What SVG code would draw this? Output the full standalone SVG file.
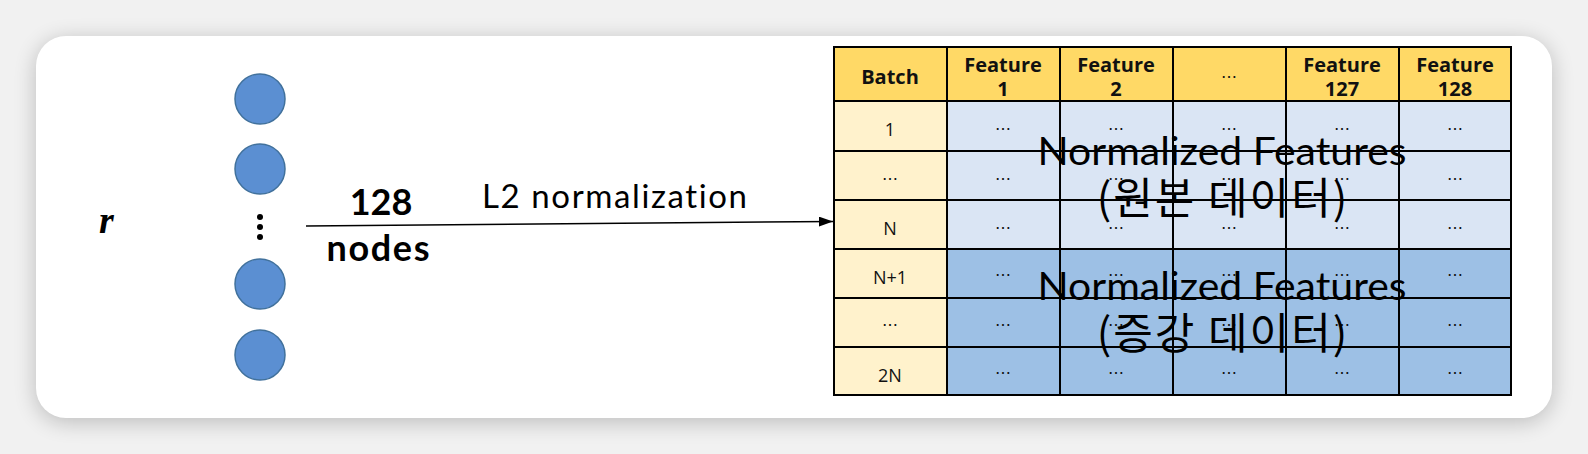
<svg xmlns="http://www.w3.org/2000/svg" width="1588" height="454" viewBox="0 0 1588 454">
<defs>
<filter id="sh" x="-10%" y="-30%" width="120%" height="160%">
<feGaussianBlur stdDeviation="11"/>
</filter>
<marker id="arr" viewBox="0 0 14 10" refX="14" refY="5" markerWidth="14" markerHeight="10" markerUnits="userSpaceOnUse" orient="auto">
<path d="M0,0 L14,5 L0,10 Z" fill="#000"/>
</marker>
<style>
.node{fill:#5b8fd2;stroke:#41719c;stroke-width:1.5}
.hd{fill:#ffd966}
.bt{fill:#fff2cc}
.lt{fill:#dae5f4}
.dk{fill:#9dc0e5}
.grid{stroke:#000;stroke-width:2;fill:none}
.th{font-family:"Open Sans","Noto Sans",sans-serif;font-weight:bold;font-size:20px;fill:#111;text-anchor:middle}
.td{font-family:"Open Sans","Noto Sans",sans-serif;font-size:18px;fill:#111;text-anchor:middle}
.el{font-family:"DejaVu Sans",sans-serif;font-size:16px;fill:#111;text-anchor:middle}
.big{font-family:Lato,"Noto Sans",sans-serif;font-size:39px;fill:#000;text-anchor:middle;font-variant-ligatures:none}
.kr{font-family:"Noto Sans CJK KR",sans-serif;font-size:43px;font-weight:400;letter-spacing:2px;fill:#000;text-anchor:middle}
.lbl{font-family:Lato,"Noto Sans",sans-serif;fill:#000;font-variant-ligatures:none}
</style>
</defs>
<rect width="1588" height="454" fill="#f1f1f1"/>
<rect x="36" y="40" width="1516" height="382" rx="30" fill="#000" opacity="0.22" filter="url(#sh)"/>
<rect x="36" y="36" width="1516" height="382" rx="30" fill="#fff"/>

<g id="input-r">
<text x="99" y="233" font-family="'Liberation Serif',serif" font-style="italic" font-weight="bold" font-size="38">r</text>
</g>

<g id="layer">
<circle class="node" cx="260" cy="99" r="25"/>
<circle class="node" cx="260" cy="169" r="25"/>
<circle cx="260" cy="217" r="3" fill="#000"/>
<circle cx="260" cy="227" r="3" fill="#000"/>
<circle cx="260" cy="237" r="3" fill="#000"/>
<circle class="node" cx="260" cy="284" r="25"/>
<circle class="node" cx="260" cy="355" r="25"/>
</g>

<g id="connectors">
<line x1="306" y1="226" x2="833" y2="221.5" stroke="#000" stroke-width="1.5" marker-end="url(#arr)"/>
</g>

<g id="edge-labels">
<text class="lbl" x="381" y="215" font-size="36" font-weight="bold" text-anchor="middle">128</text>
<text class="lbl" x="378" y="261" font-size="36" font-weight="bold" text-anchor="middle" textLength="103">nodes</text>
<text class="lbl" x="482" y="208" font-size="33" textLength="265">L2 normalization</text>
</g>

<g id="table">
<rect class="hd" x="834" y="47" width="677" height="54"/>
<rect class="bt" x="834" y="101" width="113" height="294"/>
<rect class="lt" x="947" y="101" width="564" height="148"/>
<rect class="dk" x="947" y="249" width="564" height="146"/>

<g class="grid">
<rect x="834" y="47" width="677" height="348"/>
<path d="M947,47V395M1060,47V395M1173,47V395M1286,47V395M1399,47V395"/>
<path d="M834,101H1511M834,151H1511M834,200H1511M834,249H1511M834,298H1511M834,347H1511"/>
</g>

<text class="th" x="890" y="84">Batch</text>
<text class="th" x="1003" y="72">Feature</text><text class="th" x="1003" y="96">1</text>
<text class="th" x="1116" y="72">Feature</text><text class="th" x="1116" y="96">2</text>
<text class="el" x="1229" y="78">…</text>
<text class="th" x="1342" y="72">Feature</text><text class="th" x="1342" y="96">127</text>
<text class="th" x="1455" y="72">Feature</text><text class="th" x="1455" y="96">128</text>

<text class="td" x="890" y="136">1</text>
<text class="el" x="890" y="180">…</text>
<text class="td" x="890" y="235">N</text>
<text class="td" x="890" y="284">N+1</text>
<text class="el" x="890" y="326">…</text>
<text class="td" x="890" y="382">2N</text>

<g class="el">
<text x="1003" y="130">…</text><text x="1116" y="130">…</text><text x="1229" y="130">…</text><text x="1342" y="130">…</text><text x="1455" y="130">…</text>
<text x="1003" y="180">…</text><text x="1116" y="180">…</text><text x="1229" y="180">…</text><text x="1342" y="180">…</text><text x="1455" y="180">…</text>
<text x="1003" y="229">…</text><text x="1116" y="229">…</text><text x="1229" y="229">…</text><text x="1342" y="229">…</text><text x="1455" y="229">…</text>
<text x="1003" y="276">…</text><text x="1116" y="276">…</text><text x="1229" y="276">…</text><text x="1342" y="276">…</text><text x="1455" y="276">…</text>
<text x="1003" y="326">…</text><text x="1116" y="326">…</text><text x="1229" y="326">…</text><text x="1342" y="326">…</text><text x="1455" y="326">…</text>
<text x="1003" y="374">…</text><text x="1116" y="374">…</text><text x="1229" y="374">…</text><text x="1342" y="374">…</text><text x="1455" y="374">…</text>
</g>
</g>

<g id="overlay-original">
<text class="big" x="1222" y="165" textLength="369" lengthAdjust="spacingAndGlyphs">Normalized Features</text>
<text class="kr" x="1223" y="214">(원본 데이터)</text>
</g>
<g id="overlay-augmented">
<text class="big" x="1222" y="300" textLength="369" lengthAdjust="spacingAndGlyphs">Normalized Features</text>
<text class="kr" x="1223" y="349">(증강 데이터)</text>
</g>
</svg>
